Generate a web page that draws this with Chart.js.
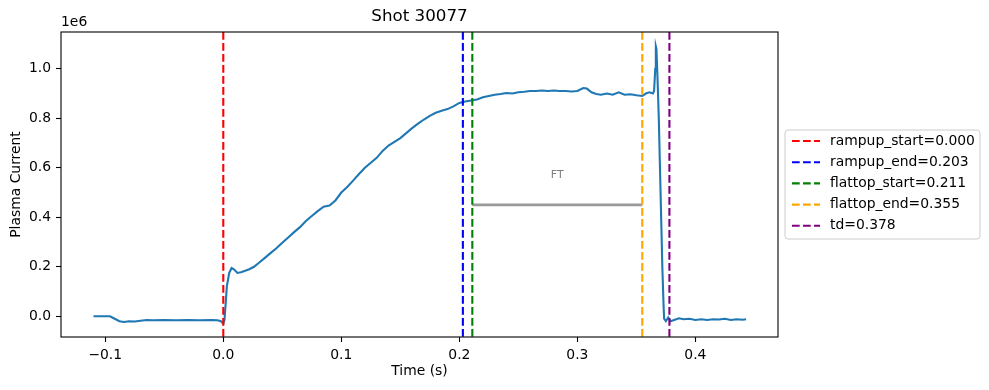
<!DOCTYPE html>
<html>
<head>
<meta charset="utf-8">
<script src="https://cdn.jsdelivr.net/npm/chart.js@4.4.1/dist/chart.umd.min.js"></script>
<style>
  html, body { margin: 0; padding: 0; background: #ffffff; }
</style>
</head>
<body>
<canvas id="chart" width="989" height="390"></canvas>
<script>
// Plasma current trace (time in s, current in units of 1e6 A)
const times = [
  -0.110, -0.100, -0.096, -0.092, -0.088, -0.084, -0.080, -0.075, -0.070, -0.065,
  -0.060, -0.050, -0.040, -0.030, -0.020, -0.010, -0.005, -0.002, 0.000, 0.001,
  0.002, 0.003, 0.005, 0.007, 0.009, 0.012, 0.015, 0.018, 0.022, 0.026,
  0.030, 0.035, 0.040, 0.045, 0.050, 0.055, 0.060, 0.065, 0.070, 0.075,
  0.080, 0.085, 0.090, 0.095, 0.100, 0.105, 0.110, 0.115, 0.120, 0.125,
  0.130, 0.135, 0.140, 0.145, 0.150, 0.155, 0.160, 0.165, 0.170, 0.175,
  0.180, 0.185, 0.190, 0.195, 0.200, 0.205, 0.210, 0.215, 0.220, 0.225,
  0.230, 0.235, 0.240, 0.245, 0.250, 0.255, 0.260, 0.265, 0.270, 0.275,
  0.280, 0.285, 0.290, 0.295, 0.300, 0.305, 0.308, 0.312, 0.316, 0.320,
  0.325, 0.330, 0.335, 0.340, 0.345, 0.350, 0.355, 0.358, 0.361, 0.364,
  0.365, 0.366, 0.3665, 0.367, 0.368, 0.369, 0.370, 0.371, 0.372, 0.373,
  0.3735, 0.375, 0.377, 0.379, 0.382, 0.386, 0.390, 0.395, 0.400, 0.405,
  0.410, 0.415, 0.420, 0.425, 0.430, 0.435, 0.440, 0.443
];
const currentMA = [
  0.000, 0.000, 0.000, -0.010, -0.020, -0.023, -0.020, -0.021, -0.018, -0.015,
  -0.016, -0.015, -0.016, -0.015, -0.016, -0.015, -0.016, -0.020, -0.030, -0.015,
  0.050, 0.120, 0.175, 0.195, 0.190, 0.175, 0.178, 0.183, 0.190, 0.200,
  0.215, 0.235, 0.255, 0.275, 0.297, 0.318, 0.340, 0.360, 0.385, 0.405,
  0.425, 0.443, 0.447, 0.468, 0.500, 0.522, 0.548, 0.575, 0.600, 0.620,
  0.640, 0.668, 0.690, 0.705, 0.720, 0.740, 0.760, 0.778, 0.795, 0.810,
  0.822, 0.830, 0.837, 0.848, 0.862, 0.868, 0.872, 0.876, 0.885, 0.890,
  0.895, 0.898, 0.902, 0.900, 0.905, 0.907, 0.910, 0.910, 0.912, 0.910,
  0.912, 0.910, 0.910, 0.908, 0.910, 0.922, 0.920, 0.905, 0.898, 0.895,
  0.900, 0.895, 0.905, 0.895, 0.897, 0.893, 0.890, 0.900, 0.905, 0.900,
  0.910, 1.000, 1.090, 1.080, 0.950, 0.800, 0.600, 0.400, 0.200, 0.050,
  -0.010, -0.020, -0.005, -0.020, -0.015, -0.008, -0.012, -0.010, -0.015, -0.012,
  -0.015, -0.012, -0.013, -0.010, -0.015, -0.012, -0.014, -0.012
];

// Phase markers
const markerNames = ['rampup_start', 'rampup_end', 'flattop_start', 'flattop_end', 'td'];
const markerTimes = [0.000, 0.203, 0.211, 0.355, 0.378];
const markerColors = ['red', 'blue', 'green', 'orange', 'purple'];

// Flat-top bar
const ftLabel = 'FT';
const ftLevel = 0.45;
const ftTextLevel = 0.571;

const xTicks = [-0.1, 0.0, 0.1, 0.2, 0.3, 0.4];
const yTicks = [0.0, 0.2, 0.4, 0.6, 0.8, 1.0];

const FONT = '"DejaVu Sans", sans-serif';
const DASH = [7.7, 3.3];

const traceData = times.map((t, i) => ({ x: t, y: currentMA[i] }));
const ftData = [
  { x: markerTimes[2], y: ftLevel },
  { x: markerTimes[3], y: ftLevel }
];

// frame, markers, FT text, title, offset text and legend
const decorations = {
  id: 'decorations',
  afterDatasetsDraw(chart) {
    const { ctx, chartArea: a, scales: { x, y } } = chart;
    ctx.save();
    ctx.beginPath();
    ctx.rect(a.left, a.top, a.right - a.left, a.bottom - a.top);
    ctx.clip();
    ctx.lineWidth = 2.1;
    ctx.setLineDash(DASH);
    markerTimes.forEach((t, i) => {
      const px = x.getPixelForValue(t);
      ctx.strokeStyle = markerColors[i];
      ctx.beginPath();
      ctx.moveTo(px, a.top);
      ctx.lineTo(px, a.bottom);
      ctx.stroke();
    });
    ctx.restore();

    ctx.save();
    ctx.fillStyle = 'gray';
    ctx.font = '11px ' + FONT;
    ctx.textAlign = 'center';
    ctx.textBaseline = 'middle';
    const midT = (markerTimes[2] + markerTimes[3]) / 2;
    ctx.fillText(ftLabel, x.getPixelForValue(midT), y.getPixelForValue(ftTextLevel));
    ctx.restore();
  },
  afterDraw(chart) {
    const { ctx, chartArea: a } = chart;
    ctx.save();
    ctx.strokeStyle = '#000';
    ctx.lineWidth = 1.1;
    ctx.setLineDash([]);
    ctx.strokeRect(a.left, a.top, a.right - a.left, a.bottom - a.top);

    ctx.fillStyle = '#000';
    ctx.font = '16.7px ' + FONT;
    ctx.textAlign = 'center';
    ctx.textBaseline = 'middle';
    ctx.fillText('Shot 30077', (a.left + a.right) / 2, 17);

    ctx.font = '13.9px ' + FONT;
    ctx.textAlign = 'left';
    ctx.textBaseline = 'bottom';
    ctx.fillText('1e6', a.left, a.top - 3);

    // legend
    const lx = 785, ly = 130, lw = 195, lh = 109, r = 3;
    ctx.beginPath();
    ctx.moveTo(lx + r, ly);
    ctx.arcTo(lx + lw, ly, lx + lw, ly + lh, r);
    ctx.arcTo(lx + lw, ly + lh, lx, ly + lh, r);
    ctx.arcTo(lx, ly + lh, lx, ly, r);
    ctx.arcTo(lx, ly, lx + lw, ly, r);
    ctx.closePath();
    ctx.fillStyle = 'rgba(255,255,255,0.8)';
    ctx.fill();
    ctx.strokeStyle = '#cccccc';
    ctx.lineWidth = 1;
    ctx.stroke();

    ctx.textBaseline = 'middle';
    ctx.font = '13.9px ' + FONT;
    markerNames.forEach((name, i) => {
      const yy = 141 + i * 21.2;
      ctx.strokeStyle = markerColors[i];
      ctx.lineWidth = 2.1;
      ctx.setLineDash(DASH);
      ctx.beginPath();
      ctx.moveTo(792, yy);
      ctx.lineTo(820, yy);
      ctx.stroke();
      ctx.fillStyle = '#000';
      ctx.fillText(name + '=' + markerTimes[i].toFixed(3), 830, yy);
    });
    ctx.restore();
  }
};

new Chart(document.getElementById('chart'), {
  type: 'line',
  data: {
    datasets: [
      {
        label: 'Plasma Current',
        data: traceData,
        borderColor: '#1f77b4',
        borderWidth: 2.1,
        pointRadius: 0,
        tension: 0,
        fill: false
      },
      {
        label: ftLabel,
        data: ftData,
        borderColor: 'rgba(128,128,128,0.8)',
        borderWidth: 2.8,
        pointRadius: 0,
        fill: false
      }
    ]
  },
  options: {
    responsive: false,
    animation: false,
    events: [],
    layout: { padding: { top: 32, right: 211, bottom: 0, left: 0 } },
    plugins: {
      legend: { display: false },
      title: { display: false },
      tooltip: { enabled: false }
    },
    scales: {
      x: {
        type: 'linear',
        min: -0.1375,
        max: 0.470,
        afterFit: (s) => { s.height = 53; },
        afterBuildTicks: (s) => { s.ticks = xTicks.map(v => ({ value: v })); },
        border: { display: false },
        grid: { drawOnChartArea: false, color: '#000', tickLength: 5, tickWidth: 1.1 },
        ticks: {
          color: '#000',
          padding: 5,
          maxRotation: 0,
          font: { family: FONT, size: 13.9 },
          callback: (v) => (v < 0 ? '\u2212' : '') + Math.abs(v).toFixed(1)
        },
        title: {
          display: true,
          text: 'Time (s)',
          color: '#000',
          font: { family: FONT, size: 13.9 },
          padding: { top: 0, bottom: 10 }
        }
      },
      y: {
        type: 'linear',
        min: -0.0838,
        max: 1.1486,
        afterFit: (s) => { s.width = 61; },
        afterBuildTicks: (s) => { s.ticks = yTicks.map(v => ({ value: v })); },
        border: { display: false },
        grid: { drawOnChartArea: false, color: '#000', tickLength: 5, tickWidth: 1.1 },
        ticks: {
          color: '#000',
          padding: 5,
          font: { family: FONT, size: 13.9 },
          callback: (v) => v.toFixed(1)
        },
        title: {
          display: true,
          text: 'Plasma Current',
          color: '#000',
          font: { family: FONT, size: 13.9 },
          padding: { top: 8, bottom: 0 }
        }
      }
    }
  },
  plugins: [decorations]
});
</script>
</body>
</html>
